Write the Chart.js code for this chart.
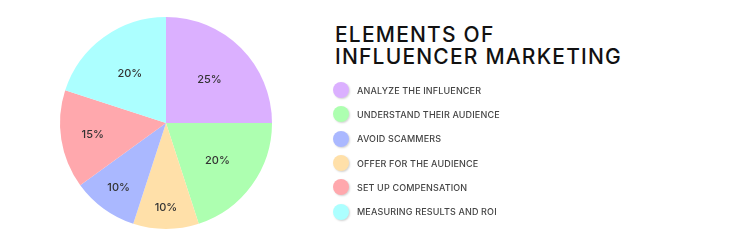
<!DOCTYPE html>
<html>
<head>
<meta charset="utf-8">
<script src="https://cdn.jsdelivr.net/npm/chart.js@4/dist/chart.umd.min.js"></script>
<style>
  html, body { margin: 0; padding: 0; background: #fff; }
  body { width: 748px; height: 245px; position: relative; overflow: hidden; font-family: "Inter", "Lato", sans-serif; }
  #wrap { position: absolute; left: 0; top: 0; width: 332px; height: 245px; }
  #title { position: absolute; left: 335px; top: 24px; font-size: 21px; line-height: 22px; font-weight: 500; color: #111; letter-spacing: 1.2px; }
  #legend { position: absolute; left: 333px; top: 78px; }
  .item { height: 24.3px; display: flex; align-items: center; }
  .dot { width: 16px; height: 16px; border-radius: 50%; margin-right: 8px; box-shadow: 1px 1px 2px rgba(0,0,0,0.18); }
  .lbl { font-size: 9px; color: #444; letter-spacing: 0.15px; font-weight: 500; }
</style>
</head>
<body>
<div id="wrap"><canvas id="pie"></canvas></div>
<div id="title">ELEMENTS OF<br>INFLUENCER MARKETING</div>
<div id="legend"></div>
<script>
// slices in drawing order (clockwise from 12 o'clock)
const categories = ['Analyze the influencer', 'Understand their audience', 'Offer for the audience', 'Avoid scammers', 'Set up compensation', 'Measuring results and ROI'];
const shares = [25, 20, 10, 10, 15, 20];
const colors = ['#dbb0ff', '#adffb0', '#ffe0a9', '#aab8ff', '#ffa8ad', '#acffff'];
// legend lists them in a different order
const legendOrder = [0, 1, 3, 2, 4, 5];
// how far out each percent label sits (fraction of radius)
const labelDist = [0.58, 0.6, 0.8, 0.76, 0.7, 0.58];

const legend = document.getElementById('legend');
legendOrder.forEach(function (i) {
    const row = document.createElement('div');
    row.className = 'item';
    row.innerHTML = '<span class="dot" style="background:' + colors[i] + '"></span><span class="lbl">' + categories[i].toUpperCase() + '</span>';
    legend.appendChild(row);
});

const pctLabels = {
    id: 'pctLabels',
    afterDatasetsDraw(chart) {
        const ctx = chart.ctx;
        const meta = chart.getDatasetMeta(0);
        ctx.save();
        ctx.fillStyle = '#333';
        ctx.font = '500 11px Inter, sans-serif';
        ctx.textAlign = 'center';
        ctx.textBaseline = 'middle';
        meta.data.forEach(function (arc, i) {
            const p = arc.getProps(['x', 'y', 'startAngle', 'endAngle', 'outerRadius'], true);
            const mid = (p.startAngle + p.endAngle) / 2;
            const r = p.outerRadius * labelDist[i];
            ctx.fillText(shares[i] + '%', p.x + Math.cos(mid) * r, p.y + Math.sin(mid) * r);
        });
        ctx.restore();
    }
};

new Chart(document.getElementById('pie'), {
    type: 'pie',
    data: {
        labels: categories,
        datasets: [{
            data: shares,
            backgroundColor: colors,
            borderWidth: 0
        }]
    },
    options: {
        responsive: true,
        maintainAspectRatio: false,
        animation: false,
        layout: { padding: { top: 17, bottom: 16 } },
        plugins: {
            legend: { display: false },
            tooltip: { enabled: false }
        }
    },
    plugins: [pctLabels]
});
</script>
</body>
</html>
